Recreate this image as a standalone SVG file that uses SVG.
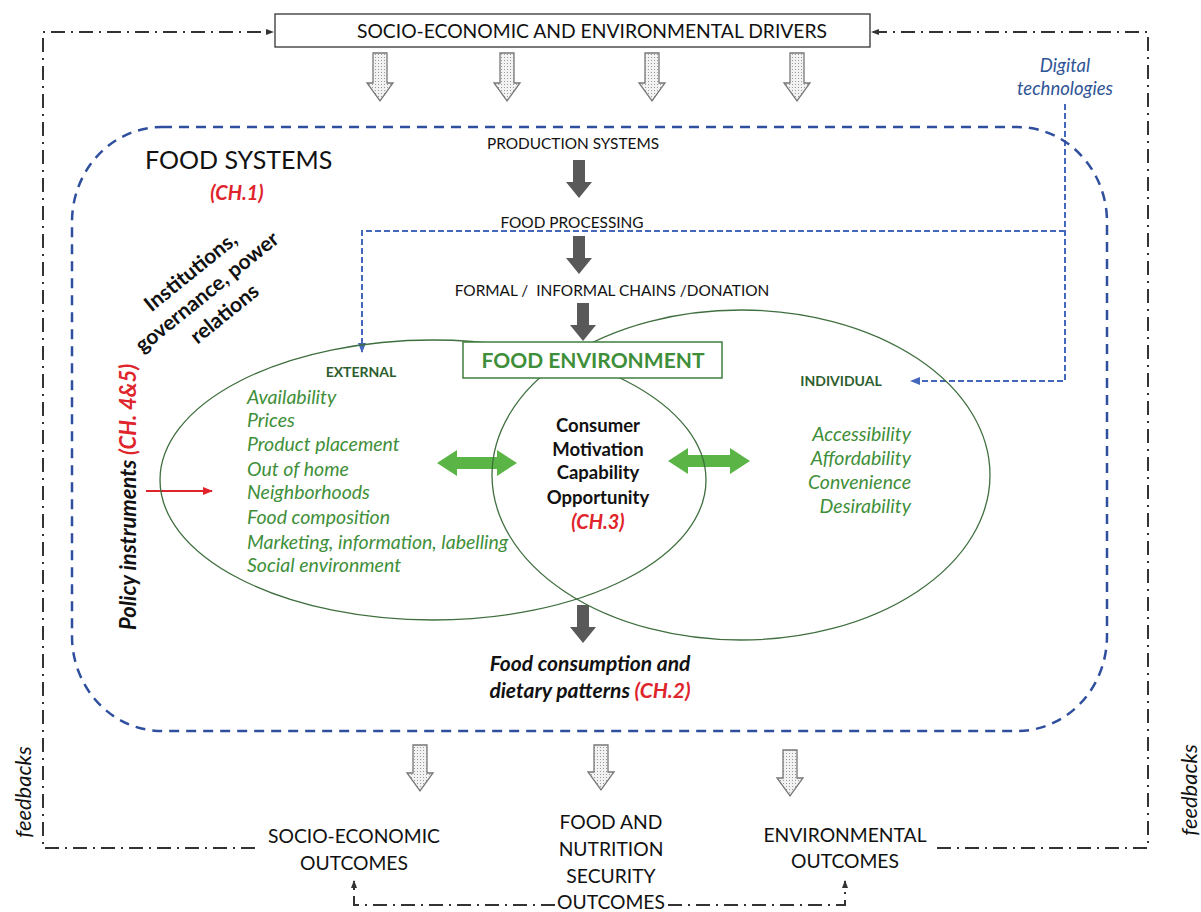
<svg xmlns="http://www.w3.org/2000/svg" width="1201" height="912" viewBox="0 0 1201 912">
<defs>
<style>
text{font-family:Lato,"Liberation Sans",sans-serif;}
.cap{font-size:19.3px;fill:#111;}
.sm{font-size:15.4px;fill:#111;}
.grn{font-size:19.5px;font-style:italic;fill:#3f8f3a;}
.ctr{font-size:18.5px;font-weight:bold;fill:#111;}
.red{fill:#e0242c;font-weight:bold;font-style:italic;}
.dd{fill:none;stroke:#333;stroke-width:2;stroke-dasharray:14 6 2 6;}
.blue{fill:none;stroke:#4466bb;stroke-width:2;stroke-dasharray:6 3;}
.hollow{fill:url(#dots);stroke:#777;stroke-width:1.3;}
.solid{fill:#595959;}
.garrow{fill:#5bb446;}
.ell{fill:none;stroke:#3f6f3f;stroke-width:1.3;}
</style>
<pattern id="dots" width="3" height="3" patternUnits="userSpaceOnUse">
<rect width="3" height="3" fill="#f2f2f2"/>
<rect width="1" height="1" fill="#9a9a9a"/>
</pattern>
<marker id="ah" markerWidth="8" markerHeight="8" refX="7" refY="4" orient="auto" markerUnits="userSpaceOnUse">
<path d="M0,1 L8,4 L0,7 Z" fill="#333"/>
</marker>
<marker id="bh" markerWidth="10" markerHeight="10" refX="9" refY="5" orient="auto" markerUnits="userSpaceOnUse">
<path d="M0,1 L10,5 L0,9 Z" fill="#4466bb"/>
</marker>
<marker id="rh" markerWidth="10" markerHeight="10" refX="9" refY="5" orient="auto" markerUnits="userSpaceOnUse">
<path d="M0,1 L10,5 L0,9 Z" fill="#e0242c"/>
</marker>
</defs>
<rect width="1201" height="912" fill="#fff"/>

<g id="connectors">
<polyline class="dd" points="255,848 43,848 43,32 273,32" marker-end="url(#ah)"/>
<polyline class="dd" points="937,848 1148,848 1148,32 872,32" marker-end="url(#ah)"/>
<polyline class="dd" points="555,905 354,905 354,881" marker-end="url(#ah)"/>
<polyline class="dd" points="668,905 845,905 845,881" marker-end="url(#ah)"/>
<polyline class="blue" points="1065,231 362,231 362,352" marker-end="url(#bh)"/>
<polyline class="blue" points="1065,104 1065,381 911,381" marker-end="url(#bh)"/>
<line x1="146" y1="491" x2="212" y2="491" stroke="#e0242c" stroke-width="1.8" marker-end="url(#rh)"/>
<path class="hollow" d="M373,53 h14 v30 h6 l-13,18 l-13,-18 h6 z"/>
<path class="hollow" d="M500,53 h14 v30 h6 l-13,18 l-13,-18 h6 z"/>
<path class="hollow" d="M645,53 h14 v30 h6 l-13,18 l-13,-18 h6 z"/>
<path class="hollow" d="M790,53 h14 v30 h6 l-13,18 l-13,-18 h6 z"/>
<path class="hollow" d="M413,745 h14 v28 h6 l-13,18 l-13,-18 h6 z"/>
<path class="hollow" d="M594,745 h14 v27 h6 l-13,18 l-13,-18 h6 z"/>
<path class="hollow" d="M783,750 h14 v28 h6 l-13,18 l-13,-18 h6 z"/>
<path class="solid" d="M573,160 h12 v22 h7 l-13,16 l-13,-16 h7 z"/>
<path class="solid" d="M573,236 h12 v22 h7 l-13,16 l-13,-16 h7 z"/>
<path class="solid" d="M577,303 h12 v22 h7 l-13,16 l-13,-16 h7 z"/>
<path class="solid" d="M577,605 h12 v22 h7 l-13,16 l-13,-16 h7 z"/>
<path class="garrow" d="M437,463 L457,450 L457,457 L497,457 L497,450 L517,463 L497,476 L497,469 L457,469 L457,476 Z"/>
<path class="garrow" d="M668,461 L688,448 L688,455 L730,455 L730,448 L750,461 L730,474 L730,467 L688,467 L688,474 Z"/>
</g>

<g id="drivers">
<rect x="275" y="14" width="595" height="33" fill="#fff" stroke="#333" stroke-width="1.3"/>
<text class="cap" x="592" y="38" text-anchor="middle" font-size="18.8">SOCIO-ECONOMIC AND ENVIRONMENTAL DRIVERS</text>
</g>

<g id="digital">
<text x="1065" y="72" text-anchor="middle" font-size="18.5" font-style="italic" fill="#2f5597">Digital</text>
<text x="1065" y="95" text-anchor="middle" font-size="18.5" font-style="italic" fill="#2f5597">technologies</text>
</g>

<g id="food-systems">
<rect x="72" y="127" width="1035" height="604" rx="90" ry="95" fill="none" stroke="#2f4f9e" stroke-width="2.5" stroke-dasharray="10 7"/>
<text x="145" y="169" font-size="25" fill="#111">FOOD SYSTEMS</text>
<text class="red" x="237" y="200" text-anchor="middle" font-size="20">(CH.1)</text>
</g>

<g id="institutions" transform="translate(207,292) rotate(-39)">
<text x="0" y="-19" text-anchor="middle" font-size="21" font-weight="bold" fill="#111">Institutions,</text>
<text x="0" y="7" text-anchor="middle" font-size="21" font-weight="bold" fill="#111">governance, power</text>
<text x="0" y="35" text-anchor="middle" font-size="21" font-weight="bold" fill="#111">relations</text>
</g>

<g id="policy">
<text transform="translate(136,497) rotate(-90)" text-anchor="middle" font-size="22" font-weight="bold" font-style="italic" fill="#111">Policy instruments <tspan fill="#e0242c">(CH. 4&amp;5)</tspan></text>
</g>

<g id="chain">
<text class="sm" x="573" y="149" text-anchor="middle">PRODUCTION SYSTEMS</text>
<text class="sm" x="572" y="228" text-anchor="middle">FOOD PROCESSING</text>
<text class="sm" x="612" y="296" text-anchor="middle" xml:space="preserve">FORMAL /  INFORMAL CHAINS /DONATION</text>
</g>

<g id="external">
<ellipse class="ell" cx="433" cy="480" rx="273" ry="140"/>
<text x="361" y="377" text-anchor="middle" font-size="14" font-weight="bold" fill="#2e5e2e">EXTERNAL</text>
<text class="grn" x="247" y="404">Availability</text>
<text class="grn" x="247" y="427">Prices</text>
<text class="grn" x="247" y="451">Product placement</text>
<text class="grn" x="247" y="476">Out of home</text>
<text class="grn" x="247" y="499">Neighborhoods</text>
<text class="grn" x="247" y="524">Food composition</text>
<text class="grn" x="247" y="549">Marketing, information, labelling</text>
<text class="grn" x="247" y="572">Social environment</text>
</g>

<g id="individual">
<ellipse class="ell" cx="741" cy="475" rx="249" ry="165"/>
<text x="841" y="386" text-anchor="middle" font-size="14" font-weight="bold" fill="#2e5e2e">INDIVIDUAL</text>
<text class="grn" x="911" y="441" text-anchor="end">Accessibility</text>
<text class="grn" x="911" y="465" text-anchor="end">Affordability</text>
<text class="grn" x="911" y="489" text-anchor="end">Convenience</text>
<text class="grn" x="911" y="513" text-anchor="end">Desirability</text>
</g>

<g id="food-environment">
<rect x="463" y="342" width="259" height="36" fill="#fff" stroke="#3f7f3f" stroke-width="1.5"/>
<text x="593" y="368" text-anchor="middle" font-size="21" font-weight="bold" fill="#3f8f3a">FOOD ENVIRONMENT</text>
</g>

<g id="consumer">
<text class="ctr" x="598" y="432" text-anchor="middle">Consumer</text>
<text class="ctr" x="598" y="456" text-anchor="middle">Motivation</text>
<text class="ctr" x="598" y="479" text-anchor="middle">Capability</text>
<text class="ctr" x="598" y="504" text-anchor="middle">Opportunity</text>
<text class="red" x="598" y="529" text-anchor="middle" font-size="20">(CH.3)</text>
</g>

<g id="consumption">
<text x="590" y="671" text-anchor="middle" font-size="21" font-weight="bold" font-style="italic" fill="#111">Food consumption and</text>
<text x="590" y="698" text-anchor="middle" font-size="21" font-weight="bold" font-style="italic" fill="#111">dietary patterns <tspan fill="#e0242c">(CH.2)</tspan></text>
</g>

<g id="socio-outcomes">
<text class="cap" x="354" y="843" text-anchor="middle">SOCIO-ECONOMIC</text>
<text class="cap" x="354" y="870" text-anchor="middle">OUTCOMES</text>
</g>
<g id="fns-outcomes">
<text class="cap" x="611" y="829" text-anchor="middle">FOOD AND</text>
<text class="cap" x="611" y="856" text-anchor="middle">NUTRITION</text>
<text class="cap" x="611" y="883" text-anchor="middle">SECURITY</text>
<text class="cap" x="611" y="909" text-anchor="middle">OUTCOMES</text>
</g>
<g id="env-outcomes">
<text class="cap" x="845" y="842" text-anchor="middle">ENVIRONMENTAL</text>
<text class="cap" x="845" y="868" text-anchor="middle">OUTCOMES</text>
</g>

<g id="feedbacks">
<text transform="translate(31,792) rotate(-90)" text-anchor="middle" font-size="22" font-style="italic" fill="#111">feedbacks</text>
<text transform="translate(1197,790) rotate(-90)" text-anchor="middle" font-size="22" font-style="italic" fill="#111">feedbacks</text>
</g>
</svg>
